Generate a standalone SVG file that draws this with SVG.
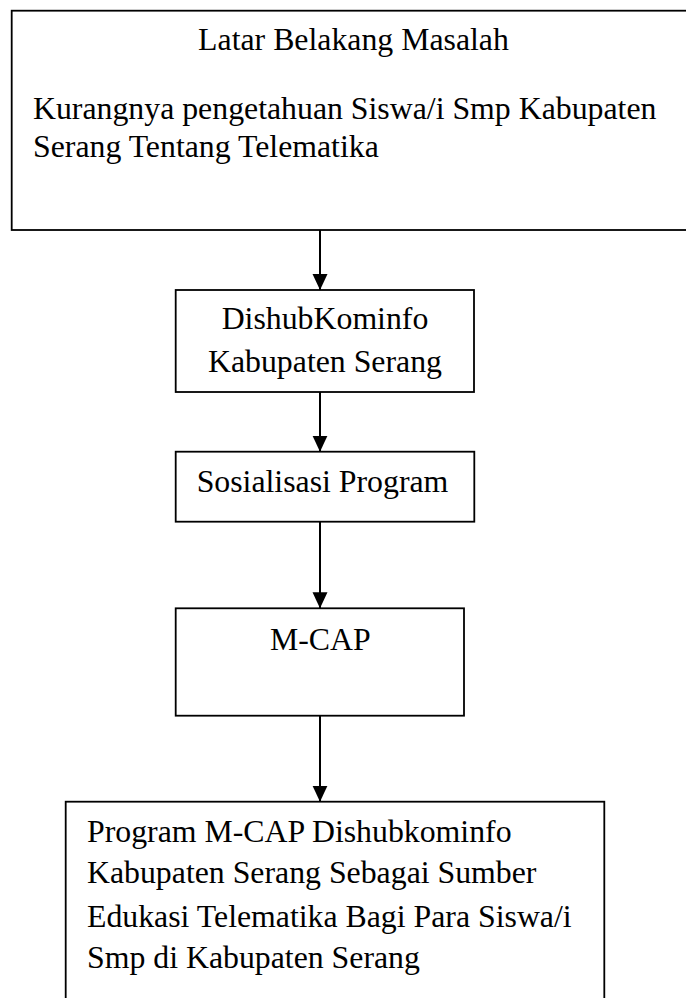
<svg xmlns="http://www.w3.org/2000/svg" width="686" height="998" viewBox="0 0 686 998">
<style>
.box{fill:#fff;stroke:#000;stroke-width:1.8}
.t{font-family:"Liberation Serif","Times New Roman",serif;font-size:31.8px;fill:#000}
.c{text-anchor:middle}
.edge{stroke:#000;stroke-width:2;fill:none}
</style>
<defs>
<marker id="ah" markerUnits="userSpaceOnUse" markerWidth="16" markerHeight="16" viewBox="0 0 16 16" refX="16" refY="8" orient="auto">
<path d="M0,0.5 L16,8 L0,15.5 Z" fill="#000"/>
</marker>
</defs>
<rect width="686" height="998" fill="#fff"/>
<g id="n1">
<rect class="box" x="11.7" y="10.7" width="690" height="219.3"/>
<text class="t c" x="353.5" y="50">Latar Belakang Masalah</text>
<text class="t" x="33" y="119">Kurangnya pengetahuan Siswa/i Smp Kabupaten</text>
<text class="t" x="33" y="157">Serang Tentang Telematika</text>
</g>
<g id="n2">
<rect class="box" x="175.7" y="290" width="298.3" height="102"/>
<text class="t c" x="325" y="329.3">DishubKominfo</text>
<text class="t c" x="325" y="371.7">Kabupaten Serang</text>
</g>
<g id="n3">
<rect class="box" x="175.7" y="451.7" width="298.6" height="70"/>
<text class="t c" x="322.5" y="491.7">Sosialisasi Program</text>
</g>
<g id="n4">
<rect class="box" x="175.7" y="608.3" width="288.3" height="107.4"/>
<text class="t c" x="320.3" y="650">M-CAP</text>
</g>
<g id="n5">
<rect class="box" x="65.7" y="801.7" width="538.6" height="210"/>
<text class="t" x="87" y="841.7">Program M-CAP Dishubkominfo</text>
<text class="t" x="87" y="882.7">Kabupaten Serang Sebagai Sumber</text>
<text class="t" x="87" y="926.7">Edukasi Telematika Bagi Para Siswa/i</text>
<text class="t" x="87" y="968.3">Smp di Kabupaten Serang</text>
</g>
<g id="edges">
<line class="edge" x1="320" y1="230" x2="320" y2="290" marker-end="url(#ah)"/>
<line class="edge" x1="320" y1="392" x2="320" y2="451.7" marker-end="url(#ah)"/>
<line class="edge" x1="320" y1="521.7" x2="320" y2="608.3" marker-end="url(#ah)"/>
<line class="edge" x1="320" y1="715.7" x2="320" y2="801.7" marker-end="url(#ah)"/>
</g>
</svg>
